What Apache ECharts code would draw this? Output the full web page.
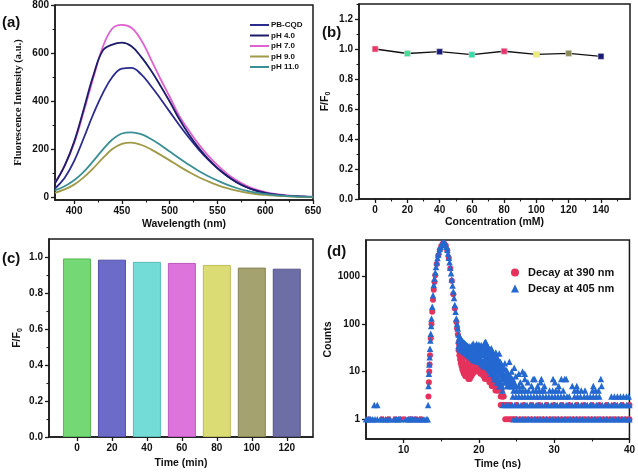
<!DOCTYPE html>
<html><head><meta charset="utf-8">
<script src="https://cdn.jsdelivr.net/npm/echarts@6/dist/echarts.min.js"></script>
<style>html,body{margin:0;padding:0;background:#fff}#c{width:638px;height:472px}</style>
</head><body><div id="c"></div>
<script>
// ---------- (a) fluorescence spectra ----------
const wavelengths = [380,390,400,410,420,430,440,450,460,470,480,490,500,510,520,530,540,550,560,570,580,590,600,610,620,630,640,650];
const specPBCQD = [36,80,150,245,345,432,500,535,538,512,465,412,356,300,248,200,157,120,88,62,42,28,18,11,6,4,2,1];
const specPH4 = [58,130,230,365,505,610,635,643,628,585,530,466,398,325,262,207,160,121,89,62,42,27,17,10,6,4,2,1];
const specPH7 = [60,130,225,355,495,625,702,717,705,655,577,495,418,338,278,222,174,133,98,70,48,32,21,13,8,5,3,2];
const specPH9 = [18,32,52,82,120,162,200,222,227,218,200,177,153,128,105,84,66,50,37,27,19,13,9,6,4,2,1,1];
const specPH11 = [28,45,70,105,150,198,240,265,270,262,243,218,190,162,135,110,88,69,52,38,27,19,13,8,5,3,2,1];
const ticksA_x = [400,450,500,550,600,650];
const ticksA_y = [0,200,400,600,800];

// ---------- (b) F/F0 vs concentration ----------
const concentrations = [0,20,40,60,80,100,120,140];
const ratioConc = [1.0,0.970,0.982,0.962,0.985,0.964,0.971,0.951];
const concColors = ['#ee3366','#44dd99','#1a1a7a','#33ddaa','#e8336a','#eeee77','#8a8a55','#1a1a7a'];
const ticksB_x = [0,20,40,60,80,100,120,140];
const ticksB_y = [0,0.2,0.4,0.6,0.8,1.0,1.2];

// ---------- (c) F/F0 vs time ----------
const timesMin = [0,20,40,60,80,100,120];
const ratioTime = [0.992,0.985,0.973,0.967,0.956,0.941,0.935];
const barColors = ['#74d874','#6c6cc8','#74dcd6','#dc74dc','#dcdc74','#a4a26e','#6e6ea6'];
const barBorders = ['#58b858','#5050a8','#58bcb6','#bc58bc','#bcbc58','#868450','#545488'];
const ticksC_x = [0,20,40,60,80,100,120];
const ticksC_y = [0,0.2,0.4,0.6,0.8,1.0];

// ---------- (d) decay curves ----------
const ticksD_x = [10,20,30,40];
const ticksD_y = [1,10,100,1000];
const decay390Curve = [[13.3,3],[13.35,6],[13.4,10],[13.45,14],[13.5,22],[13.6,50],[13.7,100],[13.8,180],[13.9,320],[14.0,520],[14.1,760],[14.2,1050],[14.4,1800],[14.6,2700],[14.8,3600],[15.0,4300],[15.2,4800],[15.3,4900],[15.4,4800],[15.6,4400],[15.8,3500],[16.0,2400],[16.2,1450],[16.4,800],[16.6,420],[16.8,210],[17.0,110],[17.1,80],[17.2,60],
[17.3,40],[17.3,28],[17.4,35],[17.4,22],[17.5,33],[17.5,18],[17.5,25],[17.6,30],[17.6,15],[17.6,21],[17.7,28],[17.7,13],[17.7,19],[17.8,26],[17.8,11],[17.8,17],[17.9,25],[17.9,10],[17.9,15],[18.0,24],[18.0,9],[18.0,14],[18.1,22],[18.1,12],[18.2,21],[18.2,8],[18.2,14],[18.3,20],[18.3,11],[18.4,22],[18.4,8],[18.4,14],[18.5,19],[18.5,10],[18.6,18],[18.6,7],[18.6,12],[18.7,17],[18.7,9],[18.8,18],[18.8,7],[18.8,12],[18.9,16],[18.9,9],[19.0,17],[19.0,8],[19.0,12],[19.1,15],[19.1,10],[19.2,16],[19.2,9],
[19.3,12],[19.4,15],[19.4,10],[19.5,13],[19.6,14],[19.6,10],[19.7,12],[19.8,15],[19.8,11],[19.9,13],[20.0,16],[20.0,10],[20.1,12],[20.2,14],[20.2,9],[20.3,11],[20.4,13],[20.4,9],[20.5,12],[20.6,10],[20.6,8],[20.7,12],[20.8,9],[20.8,7],[20.9,10],[21.0,8],[21.0,11],[21.1,9],[21.2,7],[21.2,10],[21.3,8],[21.4,6],[21.4,9],[21.5,7],[21.6,8],[21.6,6],[21.7,5],[21.8,7],[21.8,5],[21.9,6],[22.0,5],[22.0,7],[22.1,6],[22.2,4],[22.2,5],[22.3,6],[22.4,4],[22.4,5],[22.5,4],[22.6,5],[22.7,4],[22.8,4],[22.9,3],[23.0,4],[23.1,3],[23.2,3],[23.3,3]];
const decay390Ones = [5.4,7.1,8.0,8.9,9.5,10.0,10.8,11.1,11.6,12.3,23.5,23.8,24.1,24.4,24.7,25.0,25.5,26.0,26.5,27.0,27.5,28.0,28.5,29.0,29.5,30.0,30.5,31.0,31.5,32.0,32.5,33.0,33.5,34.0,34.5,35.0,35.5,36.0,36.5,37.0,37.5,38.0,38.5,39.0,39.5,40.0];
const decay390Twos = [22.9,23.2,23.5,23.8,24.2,25.0,26.0,27.0,28.0,29.0,30.0,31.0,32.0,33.0,34.0,35.0,36.0,37.0,38.0,39.0,40.0];

const decay405Curve = [[13.25,2],[13.3,5],[13.35,9],[13.4,14],[13.45,20],[13.5,30],[13.55,45],[13.6,62],[13.65,90],[13.7,130],[13.8,230],[13.9,400],[14.0,650],[14.1,900],[14.2,1200],[14.3,1550],[14.4,1950],[14.5,2400],[14.6,2850],[14.7,3300],[14.8,3750],[14.9,4150],[15.0,4500],[15.1,4800],[15.2,5000],[15.3,5100],[15.4,5050],[15.5,4900],[15.6,4600],[15.7,4150],[15.8,3600],[15.9,3000],[16.0,2450],[16.1,1950],[16.2,1500],[16.3,1150],[16.4,850],[16.5,640],[16.6,480],[16.7,350],[16.8,250],[16.9,180],[17.0,130],[17.1,100],[17.2,80],
[17.3,60],[17.3,45],[17.3,35],[17.45,55],[17.45,40],[17.45,30],[17.6,48],[17.6,38],[17.6,29],[17.75,45],[17.75,36],[17.75,28],[17.9,42],[17.9,34],[17.9,27],[18.05,40],[18.05,33],[18.05,26],[18.2,38],[18.2,32],[18.2,25],[18.35,36],[18.35,31],[18.35,24],[18.5,35],[18.5,30],[18.5,23],[18.65,33],[18.65,29],[18.65,22],[18.8,34],[18.8,28],[18.8,21],[18.95,30],[18.95,27],[18.95,20],[19.1,36],[19.1,26],[19.1,19],[19.25,39],[19.25,25],[19.25,18],[19.4,32],[19.4,24],[19.4,17],[19.55,35],[19.55,26],[19.55,18],[19.7,38],[19.7,27],[19.7,17],[19.85,34],[19.85,25],[19.85,16],[20.0,37],[20.0,26],[20.0,18],[20.15,33],[20.15,24],[20.15,16],[20.3,36],[20.3,25],[20.3,15],[20.45,30],[20.45,23],[20.45,14],[20.6,35],[20.6,22],[20.6,13],[20.75,40],[20.75,24],[20.75,14],[20.9,42],[20.9,26],[20.9,15],[21.05,36],[21.05,22],[21.05,13],[21.2,33],[21.2,20],[21.2,12],[21.35,30],[21.35,19],[21.35,11],[21.5,28],[21.5,17],[21.5,10],[21.65,31],[21.65,16],[21.65,9],[21.8,26],[21.8,15],[21.8,9],[21.95,24],[21.95,14],[21.95,8],[22.1,22],[22.1,13],[22.1,7],[22.25,25],[22.25,12],[22.25,7],[22.4,20],[22.4,11],[22.4,6],[22.55,18],[22.55,10],[22.55,6],[22.7,24],[22.7,10],[22.7,5],[22.85,16],[22.85,9],[22.85,5],[23.0,14],[23.0,8],[23.0,5],[23.15,13],[23.15,7],[23.15,4],[23.3,12],[23.3,7],[23.45,15],[23.45,6],[23.6,11],[23.6,6],[23.75,10],[23.75,5],[23.9,9],[23.9,5],[24.05,16],[24.05,7],[24.2,8],[24.2,5],[24.35,10],[24.35,6],[24.5,7],[24.5,5],[24.7,12],[24.7,6],[24.9,8],[24.9,5],[25.3,9],[25.3,5],[25.5,6],[25.8,10],[25.8,5],[26.1,9],[26.1,7],[26.5,6],[27.0,5],[27.2,7],[27.4,7],[27.8,5],[28.2,6],[28.3,7],[28.7,5],[29.85,7],[30.1,6],[30.6,5],[30.95,7],[31.4,7],[31.6,7],[32.4,5],[33.0,5],[35.2,5],[36.2,7],[36.3,5]];
const decay405Cloud = [[17.38,52],[17.38,32],[17.53,50],[17.53,31],[17.68,44],[17.68,30],[17.83,40],[17.83,29],[17.98,38],[17.98,28],[18.13,35],[18.13,27],[18.28,33],[18.28,26],[18.43,31],[18.43,25],[18.58,30],[18.58,24],[18.73,29],[18.73,23],[18.88,28],[18.88,22],[19.03,30],[19.03,21],[19.18,33],[19.18,20],[19.33,30],[19.33,19],[19.48,31],[19.48,20],[19.63,33],[19.63,20],[19.78,32],[19.78,19],[19.93,31],[19.93,20],[20.08,30],[20.08,19],[20.23,31],[20.23,18],[20.38,29],[20.38,17],[20.53,28],[20.53,16],[20.68,31],[20.68,17],[20.83,33],[20.83,18],[20.98,30],[20.98,17],[21.13,28],[21.13,15],[21.28,26],[21.28,14],[21.43,24],[21.43,13],[21.58,22],[21.58,12],[21.73,20],[21.73,11],[21.88,19],[21.88,10],[22.03,17],[22.03,9],[22.18,16],[22.18,9],[22.33,15],[22.33,8],[22.48,14],[22.48,7],[22.63,13],[22.63,7],[22.78,12],[22.78,6],[22.93,11],[22.93,6],[23.08,10],[23.08,5],[23.23,9],[23.38,8],[23.53,8],[23.68,7],[23.83,7],[23.98,6],[24.13,6],[24.28,5],[24.43,5]];
const decay405Ones = [5.0,5.3,5.6,5.9,6.2,6.5,7.0,7.3,7.6,7.9,8.2,8.7,9.0,9.3,9.6,10.3,10.6,10.9,11.2,11.5,11.8,12.1,12.4,12.7,13.0,13.2,24.6,25.0,25.4,25.8,26.2,26.6,27.0,27.4,27.8,28.2,28.6,29.0,29.4,29.8,30.2,30.6,31.0,31.4,31.8,32.2,32.6,33.0,33.4,33.8,34.2,34.6,35.0,35.4,35.8,36.2,36.6,37.0,37.4,37.8,38.2,38.6,39.0,39.4,39.8,40.0];
const decay405Twos = [6.1,6.5,23.2,23.6,24.0,24.4,24.8,25.2,25.6,26.0,26.4,26.8,27.2,27.6,28.0,28.4,28.8,29.2,29.6,30.0,30.4,30.8,31.2,31.6,32.0,32.4,32.8,33.2,33.6,34.0,34.4,34.8,35.2,35.6,36.0,36.4,36.8,37.2,37.6,38.0,38.4,38.8,39.2,39.6,40.0];
const decay405Threes = [24.5,24.9,25.3,25.7,26.1,26.5,26.9,27.3,27.7,28.1,28.5,28.9,29.3,29.7,30.1,30.5,30.9,31.3,31.7,32.0,32.7,33.1,33.5,34.0,34.4,34.8,35.2,35.6,36.0,37.6,38.0,38.4,38.8,39.2,39.6,39.9];
const decay405Fours = [24.6,25.0,25.4,25.8,26.2,26.6,27.2,27.6,28.0,28.4,28.7,29.4,29.8,30.2,30.6,31.2,32.7,33.1,33.6,34.1,35.1,35.5,35.9];

const decay390 = decay390Curve.concat(decay390Ones.map(t => [t, 1]), decay390Twos.map(t => [t, 2]));
const decay405 = decay405Curve.concat(decay405Cloud, decay405Ones.map(t => [t, 1]), decay405Twos.map(t => [t, 2]), decay405Threes.map(t => [t, 3]), decay405Fours.map(t => [t, 4]));

// ---------- styling helpers ----------
const SANS = '"Liberation Sans", Arial, sans-serif';
const INK = '#1a1a1a';
const labelStyle = { fontFamily: SANS, fontWeight: 'bold', fontSize: 10, color: '#111', margin: 6 };
const titleStyle = { fontFamily: SANS, fontWeight: 'bold', fontSize: 10.5, color: '#111' };

function axis(opts, ticks, fmt, minor) {
  return Object.assign({
    type: 'value',
    axisLine: { show: true, onZero: false, lineStyle: { color: INK, width: 1.5 } },
    axisTick: { show: true, inside: false, length: 4, customValues: ticks, lineStyle: { color: INK, width: 1.3 } },
    minorTick: { show: minor !== false, splitNumber: 2, length: 2.5, lineStyle: { color: INK, width: 1.1 } },
    axisLabel: Object.assign({ customValues: ticks, formatter: fmt }, labelStyle),
    splitLine: { show: false },
    minorSplitLine: { show: false },
    nameLocation: 'middle',
    nameTextStyle: titleStyle
  }, opts);
}
const subRich = { s: { fontFamily: SANS, fontWeight: 'bold', fontSize: 7, verticalAlign: 'bottom', padding: [6, 0, 0, 0] } };
const intFmt = v => String(Math.round(v));
const decFmt = v => v.toFixed(1);

const gridBox = { show: true, borderColor: INK, borderWidth: 1.5, backgroundColor: 'transparent' };

const chart = echarts.init(document.getElementById('c'), null, { renderer: 'canvas' });

const option = {
  backgroundColor: '#fff',
  animation: false,
  grid: [
    Object.assign({ left: 55, top: 5, width: 258, height: 195 }, gridBox),
    Object.assign({ left: 359, top: 4, width: 271, height: 195 }, gridBox),
    Object.assign({ left: 49, top: 239, width: 264, height: 198 }, gridBox),
    Object.assign({ left: 366, top: 240, width: 264, height: 199 }, gridBox)
  ],
  xAxis: [
    axis({ gridIndex: 0, min: 380, max: 650, splitNumber: 5, name: 'Wavelength (nm)', nameGap: 19 }, ticksA_x, intFmt),
    axis({ gridIndex: 1, min: -10, max: 158, splitNumber: 8, name: 'Concentration (mM)', nameGap: 18 }, ticksB_x, intFmt),
    axis({ gridIndex: 2, min: -16, max: 135, splitNumber: 7, name: 'Time (min)', nameGap: 21 }, ticksC_x, intFmt, false),
    axis({ gridIndex: 3, min: 5, max: 40, splitNumber: 4, name: 'Time (ns)', nameGap: 20 }, ticksD_x, intFmt)
  ],
  yAxis: [
    axis({ gridIndex: 0, min: -12, max: 800, splitNumber: 4, name: 'Fluorescence Intensity (a.u.)', nameGap: 31,
      nameTextStyle: { fontFamily: '"Liberation Serif", "Times New Roman", serif', fontWeight: 'bold', fontSize: 10.5, color: '#111' } }, ticksA_y, intFmt),
    axis({ gridIndex: 1, min: 0, max: 1.3, splitNumber: 6, name: 'F/F{s|0}', nameGap: 27,
      nameTextStyle: Object.assign({ rich: subRich }, titleStyle) }, ticksB_y, decFmt),
    axis({ gridIndex: 2, min: 0, max: 1.1, splitNumber: 5, name: 'F/F{s|0}', nameGap: 25,
      nameTextStyle: Object.assign({ rich: subRich }, titleStyle) }, ticksC_y, decFmt),
    axis({ type: 'log', gridIndex: 3, min: 0.386, max: 5740, logBase: 10, name: 'Counts', nameGap: 27 }, ticksD_y, intFmt, false)
  ],
  legend: [
    {
      data: ['PB-CQD', 'pH 4.0', 'pH 7.0', 'pH 9.0', 'pH 11.0'],
      orient: 'vertical', left: 245, top: 16, itemWidth: 19, itemHeight: 2, itemGap: 2.5, icon: 'rect',
      textStyle: { fontFamily: SANS, fontWeight: 'bold', fontSize: 8, color: '#111', padding: [0, 0, 0, -3] }
    },
    {
      data: ['Decay at 390 nm', 'Decay at 405 nm'],
      orient: 'vertical', left: 506, top: 262, itemWidth: 8, itemHeight: 8, itemGap: 5,
      textStyle: { fontFamily: SANS, fontWeight: 'bold', fontSize: 11, color: '#111', padding: [0, 0, 0, 4] }
    }
  ],
  graphic: [
    { type: 'text', left: 2, top: 15, style: { text: '(a)', font: 'bold 15px "Liberation Sans", Arial', fill: '#111' } },
    { type: 'text', left: 322, top: 25, style: { text: '(b)', font: 'bold 15px "Liberation Sans", Arial', fill: '#111' } },
    { type: 'text', left: 2, top: 251, style: { text: '(c)', font: 'bold 15px "Liberation Sans", Arial', fill: '#111' } },
    { type: 'text', left: 327, top: 244, style: { text: '(d)', font: 'bold 15px "Liberation Sans", Arial', fill: '#111' } }
  ],
  series: [
    { name: 'PB-CQD', type: 'line', xAxisIndex: 0, yAxisIndex: 0, smooth: 0.4, symbol: 'none',
      data: wavelengths.map((w, i) => [w, specPBCQD[i]]), lineStyle: { color: '#2b2b8e', width: 1.8 }, itemStyle: { color: '#2b2b8e' } },
    { name: 'pH 4.0', type: 'line', xAxisIndex: 0, yAxisIndex: 0, smooth: 0.4, symbol: 'none',
      data: wavelengths.map((w, i) => [w, specPH4[i]]), lineStyle: { color: '#1c1c68', width: 1.8 }, itemStyle: { color: '#1c1c68' } },
    { name: 'pH 7.0', type: 'line', xAxisIndex: 0, yAxisIndex: 0, smooth: 0.4, symbol: 'none', z: 1,
      data: wavelengths.map((w, i) => [w, specPH7[i]]), lineStyle: { color: '#e060d0', width: 1.8 }, itemStyle: { color: '#e060d0' } },
    { name: 'pH 9.0', type: 'line', xAxisIndex: 0, yAxisIndex: 0, smooth: 0.4, symbol: 'none',
      data: wavelengths.map((w, i) => [w, specPH9[i]]), lineStyle: { color: '#a09a48', width: 1.8 }, itemStyle: { color: '#a09a48' } },
    { name: 'pH 11.0', type: 'line', xAxisIndex: 0, yAxisIndex: 0, smooth: 0.4, symbol: 'none',
      data: wavelengths.map((w, i) => [w, specPH11[i]]), lineStyle: { color: '#3a8f95', width: 1.8 }, itemStyle: { color: '#3a8f95' } },

    { name: 'conc', type: 'line', xAxisIndex: 1, yAxisIndex: 1, symbol: 'rect', symbolSize: 6,
      lineStyle: { color: '#111', width: 1.3 },
      data: concentrations.map((c, i) => ({ value: [c, ratioConc[i]], itemStyle: { color: concColors[i], borderColor: '#ddd', borderWidth: 0.6 } })) },

    { name: 'time', type: 'bar', xAxisIndex: 2, yAxisIndex: 2, barWidth: 28,
      data: timesMin.map((t, i) => ({ value: [t, ratioTime[i]], itemStyle: { color: barColors[i], borderColor: barBorders[i], borderWidth: 1 } })) },

    { name: 'Decay at 390 nm', type: 'scatter', xAxisIndex: 3, yAxisIndex: 3, symbol: 'circle', symbolSize: 6,
      data: decay390, itemStyle: { color: '#e5325c', opacity: 1 } },
    { name: 'Decay at 405 nm', type: 'scatter', xAxisIndex: 3, yAxisIndex: 3, symbol: 'triangle', symbolSize: 6.5,
      data: decay405, itemStyle: { color: '#2468d0', opacity: 1 } }
  ]
};
chart.setOption(option);
</script>
</body></html>
